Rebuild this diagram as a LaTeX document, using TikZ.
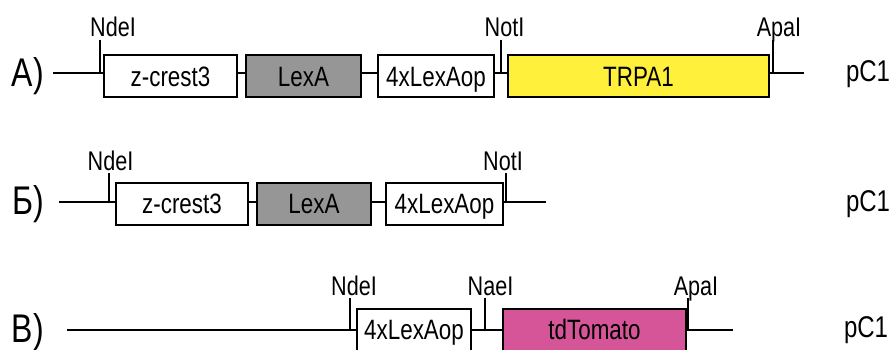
\documentclass[tikz,border=0pt]{standalone}
\usepackage{fontspec}
\setmainfont{Liberation Sans}[FakeStretch=0.8]
\usepackage{xcolor}
\usepackage{tikz}
\definecolor{lexgray}{RGB}{150,150,150}
\definecolor{trpayellow}{RGB}{255,240,60}
\definecolor{tomatopink}{RGB}{214,85,152}
\tikzset{
  dna/.style={line width=2pt},
  gene/.style={draw, line width=2pt, fill=white, minimum height=42pt, inner sep=0pt,
    text height=20pt, text depth=0pt, font=\fontsize{28}{32}\selectfont},
  site/.style={inner sep=0pt, text height=19pt, text depth=0pt, font=\fontsize{27}{30}\selectfont},
  rowlabel/.style={inner sep=0pt, font=\fontsize{40}{44}\selectfont},
  vector/.style={inner sep=0pt, font=\fontsize{30}{34}\selectfont},
}

\begin{document}
\begin{tikzpicture}[x=1pt, y=1pt]
  \useasboundingbox (0,0) rectangle (893,349);

  % linha A
  \node[rowlabel] (rowA) at (28,273) {А)};
  \coordinate (a0) at (53,276);
  \coordinate (a1) at (804,276);
  \draw[dna] (a0) -- (a1);
  \node[gene, minimum width=133pt] (zcA) at (170.5,273) {z-crest3};
  \node[gene, minimum width=115pt, fill=lexgray] (lexA) at (303.5,273) {LexA};
  \node[gene, minimum width=116pt] (opA) at (436,273) {4xLexAop};
  \node[gene, minimum width=261pt, fill=trpayellow] (trpA) at (638.5,273) {TRPA1};
  % s\'itios A
  \coordinate (ndeAt) at (100,309);
  \draw[dna] (ndeAt) -- (ndeAt |- a0);
  \node[site] (ndeA) at (113,322) {NdeI};
  \coordinate (notAt) at (501,309);
  \draw[dna] (notAt) -- (notAt |- a0);
  \node[site] (notA) at (504.5,322) {NotI};
  \coordinate (apaAt) at (773,309);
  \draw[dna] (apaAt) -- (apaAt |- a0);
  \node[site] (apaA) at (779,322) {ApaI};
  \node[vector] (pcA) at (868,275) {pC1};

  % linha B
  \node[rowlabel] (rowB) at (28,145) {Б)};
  \coordinate (b0) at (59,147);
  \coordinate (b1) at (546,147);
  \draw[dna] (b0) -- (b1);
  \node[gene, minimum width=132pt] (zcB) at (182,145.5) {z-crest3};
  \node[gene, minimum width=114pt, fill=lexgray] (lexB) at (314,145.5) {LexA};
  \node[gene, minimum width=117pt] (opB) at (444.5,145.5) {4xLexAop};
  % s\'itios B
  \coordinate (ndeBt) at (109,176);
  \draw[dna] (ndeBt) -- (ndeBt |- b0);
  \node[site] (ndeB) at (110.5,188) {NdeI};
  \coordinate (notBt) at (506,176);
  \draw[dna] (notBt) -- (notBt |- b0);
  \node[site] (notB) at (503,188) {NotI};
  \node[vector] (pcB) at (868,145) {pC1};

  % linha C
  \node[rowlabel] (rowC) at (28,17) {В)};
  \coordinate (c0) at (67,19);
  \coordinate (c1) at (733,19);
  \draw[dna] (c0) -- (c1);
  \node[gene, minimum width=114pt] (opC) at (414,19.5) {4xLexAop};
  \node[gene, minimum width=183pt, fill=tomatopink] (tdC) at (594.5,19.5) {tdTomato};
  % s\'itios C
  \coordinate (ndeCt) at (350,51);
  \draw[dna] (ndeCt) -- (ndeCt |- c0);
  \node[site] (ndeC) at (354,63) {NdeI};
  \coordinate (naeCt) at (485,51);
  \draw[dna] (naeCt) -- (naeCt |- c0);
  \node[site] (naeC) at (490.5,63) {NaeI};
  \coordinate (apaCt) at (688,51);
  \draw[dna] (apaCt) -- (apaCt |- c0);
  \node[site] (apaC) at (696,63) {ApaI};
  \node[vector] (pcC) at (866,19) {pC1};
\end{tikzpicture}
\end{document}
